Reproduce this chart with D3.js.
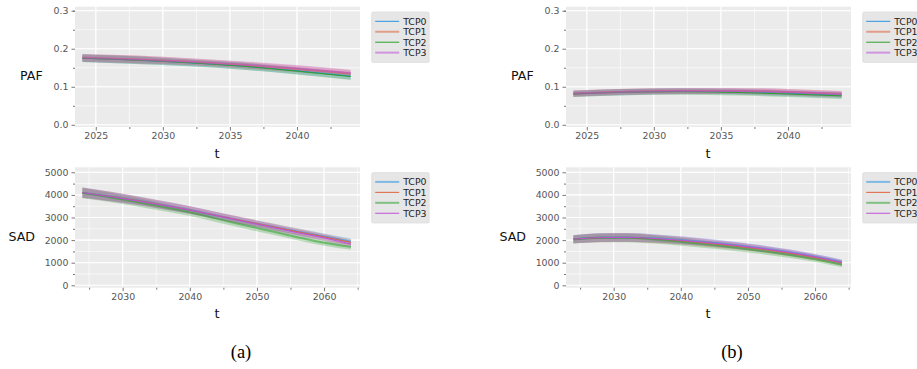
<!DOCTYPE html>
<html><head><meta charset="utf-8">
<script src="https://cdn.jsdelivr.net/npm/d3@7/dist/d3.min.js"></script>
<style>html,body{margin:0;padding:0;background:#fff;}svg{display:block;font-family:"DejaVu Sans",sans-serif;}</style>
</head><body>
<svg id="c" width="917" height="369"></svg>
<script>
// ---------- data ----------
const tcpNames = ["TCP0", "TCP1", "TCP2", "TCP3"];
const tcpColors = ["#2b93e0", "#e0623a", "#2ca02c", "#c050d8"];
const pafYears = [2024, 2028, 2032, 2036, 2040, 2044];
const sadYears = [2024, 2028, 2032, 2036, 2040, 2044, 2048, 2052, 2056, 2060, 2064];
const pafXTicks = [2025, 2030, 2035, 2040];
const sadXTicks = [2030, 2040, 2050, 2060];
const pafYTicks = [0.0, 0.1, 0.2, 0.3];
const sadYTicks = [0, 1000, 2000, 3000, 4000, 5000];

// panel (a) PAF
const pafA_TCP0 = [0.175, 0.170, 0.163, 0.154, 0.142, 0.128];
const pafA_TCP1 = [0.176, 0.172, 0.166, 0.157, 0.147, 0.135];
const pafA_TCP2 = [0.175, 0.170, 0.163, 0.154, 0.141, 0.127];
const pafA_TCP3 = [0.176, 0.172, 0.166, 0.158, 0.148, 0.136];
const pafA_spread = [0.010, 0.010, 0.009, 0.009, 0.009, 0.009];
// panel (a) SAD
const sadA_TCP0 = [4100, 3940, 3760, 3550, 3330, 3090, 2850, 2610, 2380, 2160, 1940];
const sadA_TCP1 = [4100, 3940, 3760, 3550, 3330, 3090, 2850, 2610, 2370, 2140, 1900];
const sadA_TCP2 = [4080, 3900, 3690, 3460, 3230, 2950, 2670, 2400, 2130, 1880, 1700];
const sadA_TCP3 = [4100, 3930, 3740, 3540, 3330, 3080, 2830, 2580, 2330, 2100, 1820];
const sadA_spread = [230, 210, 190, 175, 165, 155, 150, 145, 140, 135, 130];
// panel (b) PAF
const pafB_TCP0 = [0.082, 0.086, 0.088, 0.087, 0.083, 0.078];
const pafB_TCP1 = [0.082, 0.087, 0.089, 0.089, 0.086, 0.081];
const pafB_TCP2 = [0.081, 0.086, 0.087, 0.085, 0.081, 0.076];
const pafB_TCP3 = [0.082, 0.087, 0.089, 0.089, 0.086, 0.081];
const pafB_spread = [0.008, 0.008, 0.008, 0.008, 0.008, 0.008];
// panel (b) SAD
const sadB_TCP0 = [2040, 2110, 2120, 2080, 2000, 1900, 1780, 1640, 1470, 1270, 1030];
const sadB_TCP1 = [2030, 2100, 2110, 2050, 1970, 1860, 1740, 1600, 1430, 1230, 990];
const sadB_TCP2 = [2030, 2100, 2100, 2030, 1920, 1800, 1670, 1520, 1350, 1150, 910];
const sadB_TCP3 = [2040, 2110, 2120, 2070, 1990, 1890, 1770, 1630, 1460, 1260, 1010];
const sadB_spread = [180, 190, 190, 180, 170, 160, 150, 140, 130, 120, 110];

const subLabels = ["(a)", "(b)"];

// ---------- drawing ----------
const svg = d3.select("#c");
const W = 285;
const colOffsets = [75, 566];

function panel(opt) {
  const g = svg.append("g");
  const x = d3.scaleLinear().domain(opt.xd).range([opt.x0, opt.x0 + W]);
  const y = d3.scaleLinear().domain(opt.yd).range([opt.y1, opt.y0]);
  const inX = v => v >= opt.xd[0] && v <= opt.xd[1];
  const xMinor = opt.xMinor.filter(inX);
  g.append("rect").attr("x", opt.x0).attr("y", opt.y0).attr("width", W).attr("height", opt.y1 - opt.y0).attr("fill", "#EBEBEB");
  const gg = g.append("g");
  xMinor.forEach(v => gg.append("line").attr("x1", x(v)).attr("x2", x(v)).attr("y1", opt.y0).attr("y2", opt.y1).attr("stroke", "#fff").attr("stroke-width", 0.6));
  opt.yMinor.forEach(v => gg.append("line").attr("y1", y(v)).attr("y2", y(v)).attr("x1", opt.x0).attr("x2", opt.x0 + W).attr("stroke", "#fff").attr("stroke-width", 0.6));
  opt.xTicks.forEach(v => gg.append("line").attr("x1", x(v)).attr("x2", x(v)).attr("y1", opt.y0).attr("y2", opt.y1).attr("stroke", "#fff").attr("stroke-width", 1.1));
  opt.yTicks.forEach(v => gg.append("line").attr("y1", y(v)).attr("y2", y(v)).attr("x1", opt.x0).attr("x2", opt.x0 + W).attr("stroke", "#fff").attr("stroke-width", 1.1));

  // axes
  const xAx = d3.axisBottom(x).tickValues(opt.xTicks).tickSize(3.5).tickPadding(2).tickFormat(d3.format("d"));
  const xAxMinor = d3.axisBottom(x).tickValues(xMinor.filter(v => !opt.xTicks.includes(v))).tickSize(2).tickFormat("");
  const yAx = d3.axisLeft(y).tickValues(opt.yTicks).tickSize(3.5).tickPadding(3).tickFormat(opt.yFmt);
  const yAxMinor = d3.axisLeft(y).tickValues(opt.yMinor.filter(v => !opt.yTicks.includes(v))).tickSize(2).tickFormat("");
  [[xAx, "b"], [xAxMinor, "b"], [yAx, "l"], [yAxMinor, "l"]].forEach(([ax, s]) => {
    const a = g.append("g").attr("transform", s === "b" ? `translate(0,${opt.y1})` : `translate(${opt.x0},0)`).call(ax);
    a.select(".domain").remove();
    a.selectAll("line").attr("stroke", "#555").attr("stroke-width", 0.8);
    a.selectAll("text").attr("fill", "#555").style("font-size", "9.4px").style("font-family", "DejaVu Sans");
  });

  // bands and lines
  const area = d3.area().x(d => x(d[0])).y0(d => y(d[1] - d[2])).y1(d => y(d[1] + d[2])).curve(d3.curveMonotoneX);
  const line = d3.line().x(d => x(d[0])).y(d => y(d[1])).curve(d3.curveMonotoneX);
  opt.series.forEach((s, i) => {
    const pts = opt.years.map((yr, k) => [yr, s[k], opt.spread[k]]);
    g.append("path").attr("d", area(pts)).attr("fill", tcpColors[i]).attr("fill-opacity", 0.27).attr("stroke", "none");
  });
  opt.series.forEach((s, i) => {
    const pts = opt.years.map((yr, k) => [yr, s[k]]);
    const thick = opt.thick[i];
    g.append("path").attr("d", line(pts)).attr("fill", "none").attr("stroke", tcpColors[i])
      .attr("stroke-width", thick ? 2 : 1).attr("stroke-opacity", thick ? 0.55 : 1);
  });

  // labels
  g.append("text").attr("x", opt.ylabX).attr("y", opt.ylabY).attr("text-anchor", "end")
    .style("font-size", "12.6px").attr("fill", "#111").text(opt.ylab);
  g.append("text").attr("x", opt.x0 + W / 2 - 0.5).attr("y", opt.y1 + 30.5).attr("text-anchor", "middle")
    .style("font-size", "13px").attr("fill", "#111").text("t");

  // legend
  const lx = opt.x0 + W + 11.7, ly = opt.y0 + 5.3;
  g.append("rect").attr("x", lx).attr("y", ly).attr("width", 57.5).attr("height", 50.5)
    .attr("fill", "#E6E6E6").attr("stroke", "#d8d8d8").attr("stroke-width", 0.6).attr("rx", 1.5);
  tcpNames.forEach((nm, i) => {
    const yy = ly + 9.3 + i * 10.45;
    const thick = opt.thick[i];
    g.append("line").attr("x1", lx + 3.5).attr("x2", lx + 27.5).attr("y1", yy).attr("y2", yy)
      .attr("stroke", tcpColors[i]).attr("stroke-width", thick ? 2 : 1).attr("stroke-opacity", thick ? 0.55 : 1);
    g.append("text").attr("x", lx + 31.5).attr("y", yy + 3.4).style("font-size", "9.4px").attr("fill", "#222").text(nm);
  });
}

const pafFmt = d3.format(".1f");
const sadFmt = d3.format("d");
const pafSets = [[pafA_TCP0, pafA_TCP1, pafA_TCP2, pafA_TCP3], [pafB_TCP0, pafB_TCP1, pafB_TCP2, pafB_TCP3]];
const sadSets = [[sadA_TCP0, sadA_TCP1, sadA_TCP2, sadA_TCP3], [sadB_TCP0, sadB_TCP1, sadB_TCP2, sadB_TCP3]];
const pafSpreads = [pafA_spread, pafB_spread];
const sadSpreads = [sadA_spread, sadB_spread];

colOffsets.forEach((x0, c) => {
  panel({
    x0: x0, y0: 6.7, y1: 127, xd: [2023.45, 2044.7], yd: [-0.0058, 0.3105],
    xTicks: pafXTicks, xMinor: d3.range(2022.5, 2045.01, 2.5),
    yTicks: pafYTicks, yMinor: d3.range(0, 0.3001, 0.05), yFmt: pafFmt,
    years: pafYears, series: pafSets[c], spread: pafSpreads[c], thick: [false, true, false, true],
    ylab: "PAF", ylabX: x0 - 32.3, ylabY: 79.5
  });
  panel({
    x0: x0, y0: 167.3, y1: 287.7, xd: [2022.9, 2065.35], yd: [-106, 5221],
    xTicks: sadXTicks, xMinor: d3.range(2025, 2065.01, 5),
    yTicks: sadYTicks, yMinor: d3.range(0, 5000.1, 500), yFmt: sadFmt,
    years: sadYears, series: sadSets[c], spread: sadSpreads[c], thick: [true, false, true, false],
    ylab: "SAD", ylabX: x0 - 40, ylabY: 240.5
  });
  svg.append("text").attr("x", x0 + 166).attr("y", 358).attr("text-anchor", "middle")
    .style("font-family", "'Liberation Serif', 'DejaVu Serif', serif").style("font-size", "18.5px").attr("fill", "#000").text(subLabels[c]);
});
</script>
</body></html>
